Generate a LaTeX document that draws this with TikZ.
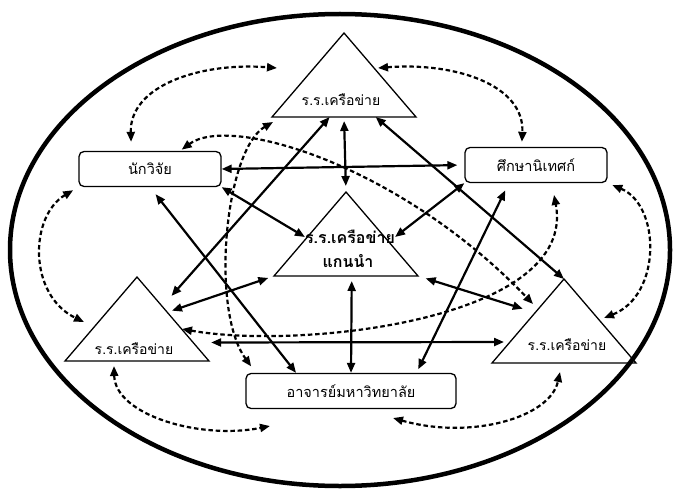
\documentclass[tikz,border=0pt]{standalone}
\usepackage{fontspec}
\setmainfont[Script=Thai]{Loma}
\usetikzlibrary{arrows.meta,calc}

\begin{document}
\begin{tikzpicture}[
x=1pt, y=-1pt,
box/.style={draw, rounded corners=5pt, line width=1.3pt, minimum width=142pt, minimum height=35pt, font=\fontsize{14.5}{16}\selectfont},
tri/.style={draw, line width=1.3pt},
lbl/.style={inner sep=0pt, font=\fontsize{14}{16}\selectfont},
mainlbl/.style={inner sep=0pt, font=\bfseries\fontsize{16}{18}\selectfont},
link/.style={{Triangle[length=10pt,width=8pt]}-{Triangle[length=10pt,width=8pt]}, line width=2.2pt},
dlink/.style={link, dash pattern=on 4.5pt off 2.8pt}
]
\useasboundingbox (0,0) rectangle (679,492);
\draw[line width=4.5pt] (340,250) ellipse [x radius=330, y radius=236];

% schools
\foreach \n/\ax/\ay in {top/344/33, mid/346/192, left/137/277, right/564/279} {
  \coordinate (\n-a) at (\ax,\ay);
  \coordinate (\n-l) at ($(\n-a)+(-72,84)$);
  \coordinate (\n-r) at ($(\n-a)+(72,84)$);
  \draw[tri] (\n-a) -- (\n-l) -- (\n-r) -- cycle;
}
\node[lbl] (top-t) at (341,100) {ร.ร.เครือข่าย};
\node[mainlbl] (mid-t1) at (350,237) {ร.ร.เครือข่าย};
\node[mainlbl] (mid-t2) at (348,261) {แกนนำ};
\node[lbl] (left-t) at (134,349) {ร.ร.เครือข่าย};
\node[lbl] (right-t) at (567,345) {ร.ร.เครือข่าย};

% people
\node[box] (res) at (150,169) {นักวิจัย};
\node[box] (sup) at (536,165) {ศึกษานิเทศก์};
\node[box, minimum width=210pt] (lec) at (351,391) {อาจารย์มหาวิทยาลัย};

% free ends of the dashed links
\coordinate (top-w) at (277,68);
\coordinate (top-e) at (378,68);
\coordinate (top-sw) at (273,122);
\coordinate (left-w) at (84,322);
\coordinate (left-s) at (114,366);
\coordinate (left-e) at (182,329);
\coordinate (right-e) at (604,318);
\coordinate (right-s) at (560,372);
\coordinate (right-w) at (533,304);
\coordinate (lec-sw) at (270,426);
\coordinate (lec-se) at (393,418);

% solid links
\draw[link, shorten <=4pt, shorten >=6pt] ($(top-l)!.5!(top-r)$) -- (mid-a);
\draw[link, shorten >=7pt] (res.east) -- (sup.west);
\draw[link] (res.south east) -- (mid-t1.west);
\draw[link] (sup.south west) -- (mid-t1.east);
\draw[link, shorten >=14pt] ($(top-l)!.4!(top-r)$) -- ($(left-a)!.35!(left-r)$);
\draw[link] ($(top-l)!.72!(top-r)$) -- (right-a);
\draw[link, shorten <=9pt] (res.south) -- ($(lec.north west)!.24!(lec.north east)$);
\draw[link, shorten <=8pt, shorten >=4pt] ($(sup.south west)!.31!(sup.south east)$) -- ($(lec.north west)!.81!(lec.north east)$);
\draw[link, shorten <=6pt, shorten >=5pt] (mid-l) -- ($(left-a)!.42!(left-r)$);
\draw[link, shorten <=8pt, shorten >=13pt] (mid-r) -- ($(right-a)!.4!(right-l)$);
\draw[link, shorten <=5pt] ($(mid-l)!.54!(mid-r)$) -- (lec.north);
\draw[link, shorten <=18pt, shorten >=6pt] ($(left-a)!.78!(left-r)$) -- ($(right-a)!.75!(right-l)$);

% dashed links
\draw[dlink, shorten <=9pt] ($(res.north west)!.37!(res.north east)$) .. controls +(-2,-65) and +(-77,-6) .. (top-w);
\draw[dlink, shorten >=5pt] (top-e) .. controls +(77,-6) and +(3,-62) .. ($(sup.north west)!.40!(sup.north east)$);
\draw[dlink, shorten <=6pt] (res.south west) .. controls +(-49,29) and +(-56,-27) .. (left-w);
\draw[dlink, shorten <=5pt] (sup.south east) .. controls +(53,22) and +(58,-23) .. (right-e);
\draw[dlink] (left-s) .. controls +(1,49) and +(-70,14) .. (lec-sw);
\draw[dlink] (lec-se) .. controls +(77,22) and +(-10,46) .. (right-s);
\draw[dlink, shorten <=2pt] ($(res.north west)!.71!(res.north east)$) .. controls +(50,-37) and +(-133,-139) .. (right-w);
\draw[dlink, shorten >=12pt] (left-e) .. controls +(118,21) and +(26,137) .. ($(sup.south west)!.61!(sup.south east)$);
\draw[dlink, shorten >=8pt] (top-sw) .. controls +(-48,28) and +(-46,-63) .. ($(lec.north west)!.05!(lec.north east)$);
\end{tikzpicture}
\end{document}
